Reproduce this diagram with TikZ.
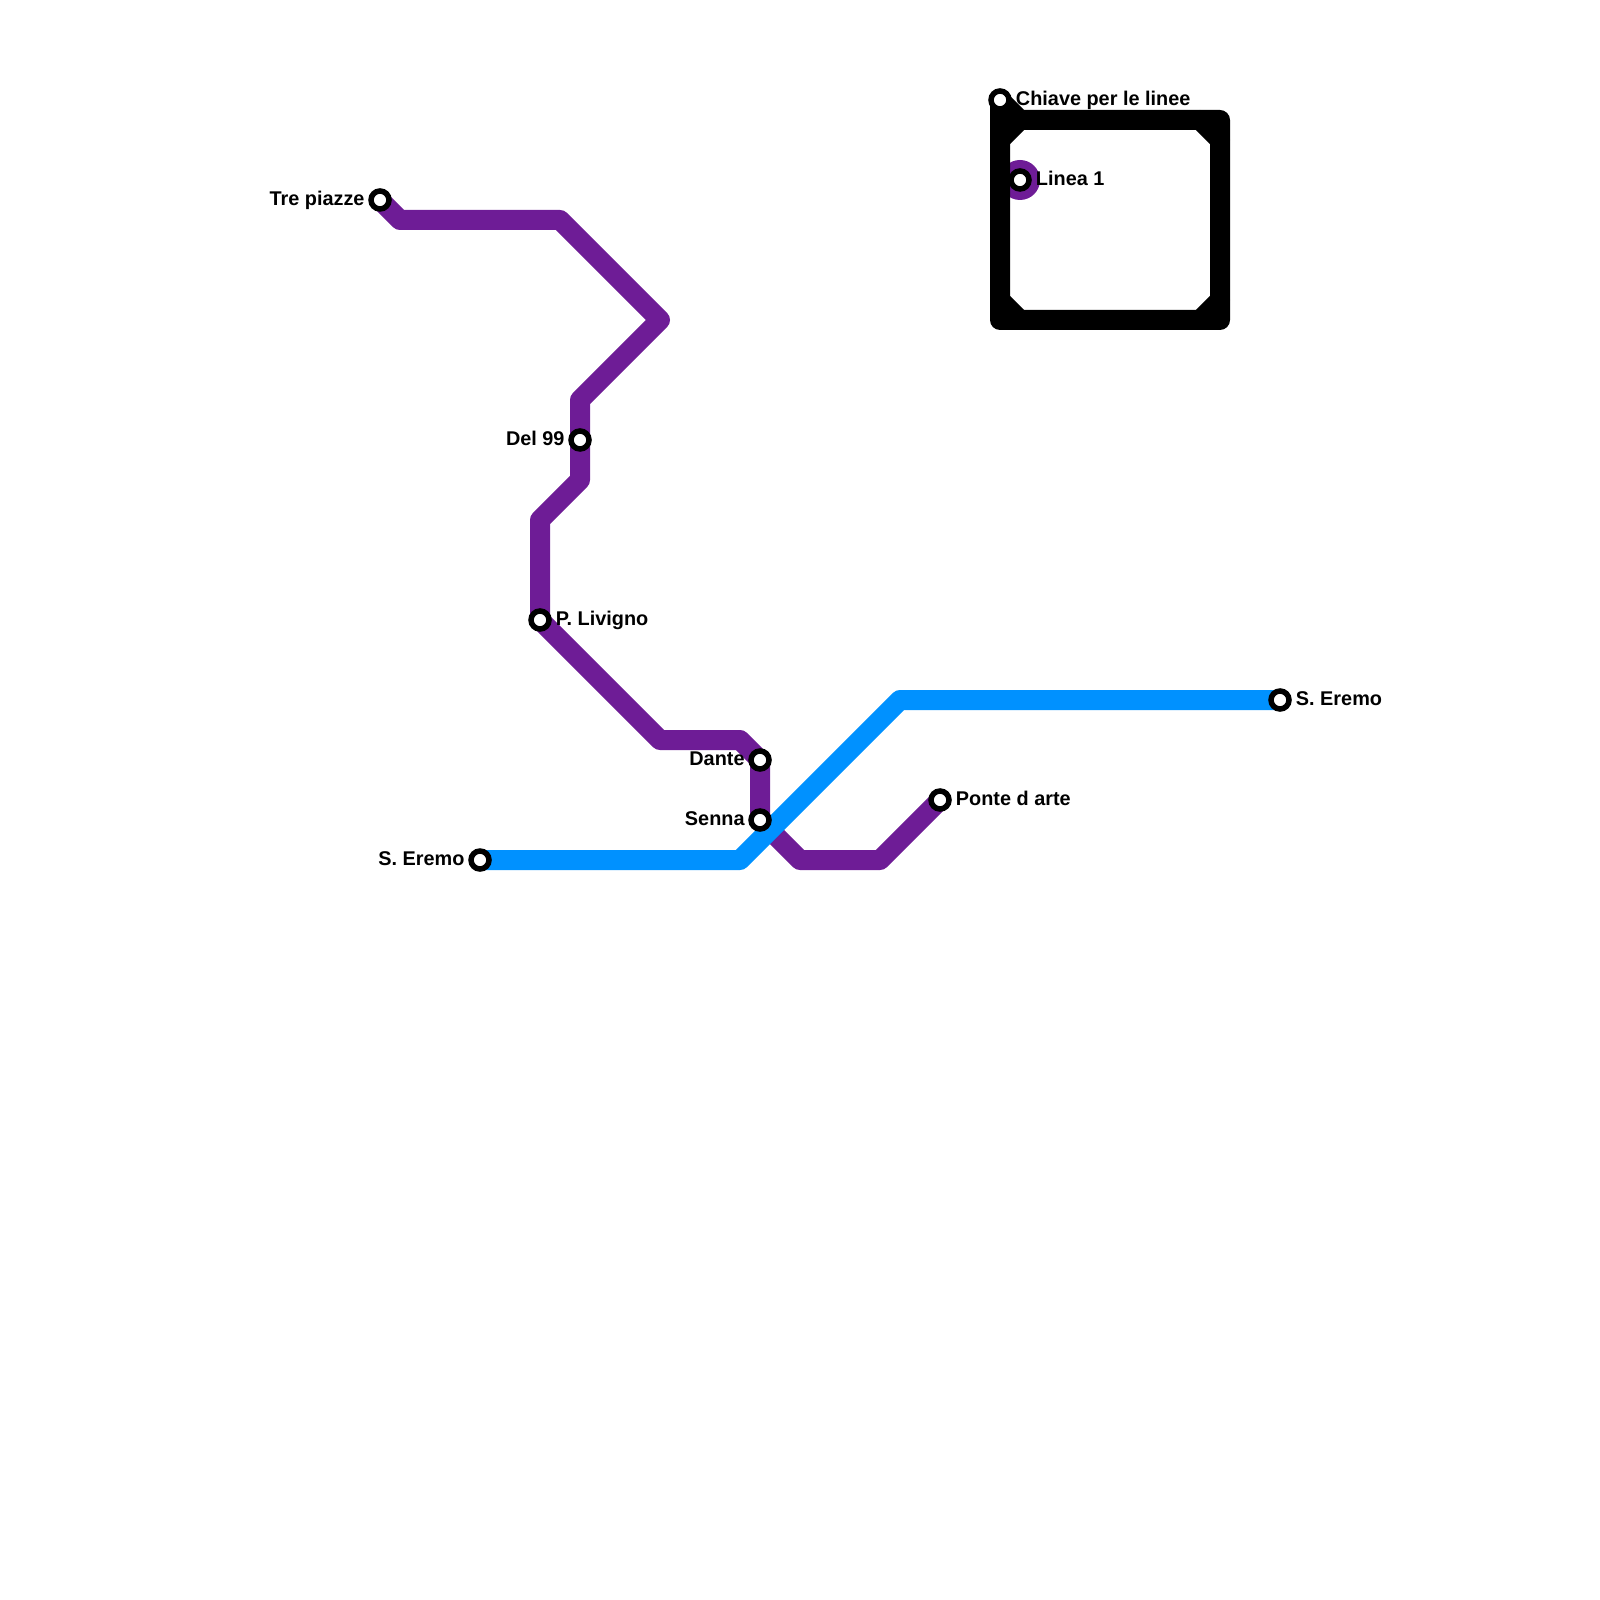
\documentclass[tikz,border=0pt]{standalone}
\usepackage{fontspec}
\setmainfont{Liberation Sans}
\usetikzlibrary{positioning,backgrounds}
\definecolor{lineaviola}{HTML}{6E1C96}
\definecolor{lineablu}{HTML}{0091FF}

\begin{document}
\begin{tikzpicture}[font=\fontsize{5.65pt}{6pt}\selectfont\bfseries]
\tikzstyle{staz}=[circle,draw=black,line width=0.055cm,fill=white,minimum size=0.18cm,inner sep=0pt]
\tikzstyle{etich}=[inner sep=0pt,text height=0.14cm,text depth=0.04cm,yshift=-0.005cm]
\tikzstyle{tratta}=[line width=0.2cm,line join=round,line cap=round]
\useasboundingbox (0,0) rectangle (16,-16);
% stazioni
\node[staz] (tre) at (3.8,-2) {};
\node[staz] (del) at (5.8,-4.4) {};
\node[staz] (liv) at (5.4,-6.2) {};
\node[staz] (dan) at (7.6,-7.6) {};
\node[staz] (sen) at (7.6,-8.2) {};
\node[staz] (pon) at (9.4,-8) {};
\node[staz] (ereA) at (4.8,-8.6) {};
\node[staz] (ereB) at (12.8,-7) {};
\node[staz] (chi) at (10,-1) {};
\node[staz] (lin) at (10.2,-1.8) {};
% etichette
\node[etich,left=0.03cm of tre] (ltre) {Tre piazze};
\node[etich,left=0.03cm of del] (ldel) {Del 99};
\node[etich,right=0.035cm of liv] (lliv) {P. Livigno};
\node[etich,left=0.03cm of dan] (ldan) {Dante};
\node[etich,left=0.03cm of sen] (lsen) {Senna};
\node[etich,right=0.035cm of pon] (lpon) {Ponte d arte};
\node[etich,left=0.03cm of ereA] (lereA) {S. Eremo};
\node[etich,right=0.035cm of ereB] (lereB) {S. Eremo};
\node[etich,right=0.035cm of chi] (lchi) {Chiave per le linee};
\node[etich,right=0.035cm of lin] (llin) {Linea 1};
% punti di svolta
\coordinate (v1) at (4,-2.2);
\coordinate (v2) at (5.6,-2.2);
\coordinate (v3) at (6.6,-3.2);
\coordinate (v4) at (5.8,-4);
\coordinate (v5) at (5.8,-4.8);
\coordinate (v6) at (5.4,-5.2);
\coordinate (v7) at (6.6,-7.4);
\coordinate (v8) at (7.4,-7.4);
\coordinate (v9) at (8,-8.6);
\coordinate (v10) at (8.8,-8.6);
\coordinate (b1) at (7.4,-8.6);
\coordinate (b2) at (9,-7);
\coordinate (k1) at (10.2,-1.2);
\coordinate (k2) at (12.2,-1.2);
\coordinate (k3) at (12.2,-3.2);
\coordinate (k4) at (10,-3.2);
\begin{scope}[on background layer]
\draw[tratta,lineaviola] (tre.center) -- (v1) -- (v2) -- (v3) -- (v4) -- (del.center) -- (v5) -- (v6) -- (liv.center) -- (v7) -- (v8) -- (dan.center) -- (sen.center) -- (v9) -- (v10) -- (pon.center);
\draw[tratta,lineablu] (ereA.center) -- (b1) -- (b2) -- (ereB.center);
\node[circle,fill=lineaviola,minimum size=0.4cm,inner sep=0pt] (anello) at (lin.center) {};
\draw[tratta,black] (chi.center) -- (k1) -- (k2) -- (k3) -- (k4) -- (chi.center);
% angoli smussati
\draw[tratta,black] (10,-1.4) -- (k1);
\draw[tratta,black] (12,-1.2) -- (12.2,-1.4);
\draw[tratta,black] (12.2,-3) -- (12,-3.2);
\draw[tratta,black] (10.2,-3.2) -- (10,-3);
\end{scope}
\end{tikzpicture}
\end{document}
